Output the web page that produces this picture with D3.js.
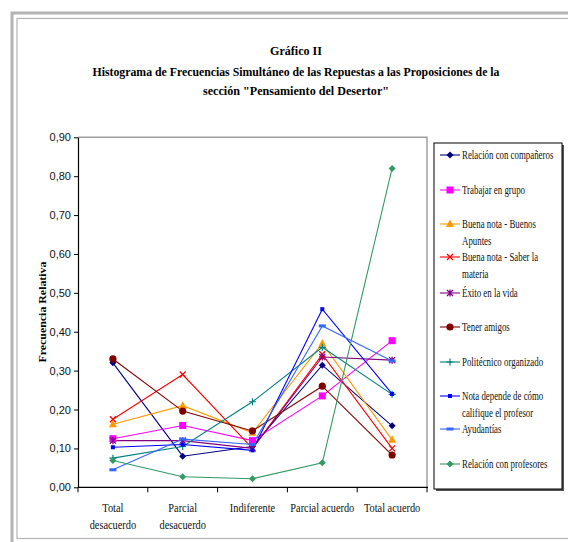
<!DOCTYPE html>
<html><head><meta charset="utf-8">
<script src="https://cdn.jsdelivr.net/npm/d3@7"></script>
<style>body{margin:0;background:#fff}svg{display:block}.serif{font-family:"Liberation Serif","Times New Roman",serif}.sans{font-family:"Liberation Sans",Arial,sans-serif}</style>
</head><body>
<script>
const categories = [["Total","desacuerdo"],["Parcial","desacuerdo"],["Indiferente"],["Parcial acuerdo"],["Total acuerdo"]];
const seriesNames = [["Relación con compañeros"],["Trabajar en grupo"],["Buena nota - Buenos","Apuntes"],["Buena nota - Saber la","materia"],["Éxito en la vida"],["Tener amigos"],["Politécnico organizado"],["Nota  depende de cómo","califique el profesor"],["Ayudantías"],["Relación con profesores"]];
const relCompaneros = [0.32,0.08,0.105,0.314,0.158];
const trabajarGrupo = [0.125,0.159,0.12,0.235,0.377];
const buenosApuntes = [0.162,0.21,0.14,0.37,0.122];
const saberMateria = [0.175,0.29,0.10,0.342,0.10];
const exitoVida = [0.12,0.12,0.10,0.335,0.327];
const tenerAmigos = [0.33,0.196,0.145,0.26,0.083];
const politecnico = [0.075,0.105,0.22,0.36,0.239];
const notaDepende = [0.103,0.11,0.095,0.458,0.24];
const ayudantias = [0.045,0.124,0.11,0.415,0.325];
const relProfesores = [0.069,0.027,0.022,0.063,0.82];
const yTicks = [0,0.1,0.2,0.3,0.4,0.5,0.6,0.7,0.8,0.9];

const seriesValues = [relCompaneros,trabajarGrupo,buenosApuntes,saberMateria,exitoVida,tenerAmigos,politecnico,notaDepende,ayudantias,relProfesores];
const colors = ["#000080","#FF00FF","#FF9900","#FF0000","#800080","#800000","#008080","#0000FF","#3366FF","#339966"];
const markers = ["diamond","square","triangle","x","star","circle","plus","smallsq","dash","diamond"];

const W=568,H=542;
const svg=d3.select("body").append("svg").attr("width",W).attr("height",H);
// frame
svg.append("rect").attr("x",12).attr("y",13).attr("width",W).attr("height",540).attr("fill","none").attr("stroke","#b4b4b4").attr("stroke-width",3);
svg.append("rect").attr("x",17).attr("y",18.5).attr("width",W).attr("height",520).attr("fill","none").attr("stroke","#b4b4b4").attr("stroke-width",1.2);

// title
const title=[["Gráfico II",55,52],["Histograma de Frecuencias Simultáneo de las Repuestas a las Proposiciones de la",76,407],["sección \"Pensamiento del Desertor\"",95,186]];
title.forEach(([t,yy,len])=>svg.append("text").attr("class","serif").attr("x",296).attr("y",yy).attr("text-anchor","middle").attr("font-weight","bold").attr("font-size",13).attr("fill","#000").text(t).attr("textLength",len).attr("lengthAdjust","spacingAndGlyphs"));

const L=78,R=427,T=137.3,B=487.3;
const x=d3.scaleBand().domain(d3.range(categories.length)).range([L,R]);
const y=d3.scaleLinear().domain([0,0.9]).range([B,T]);

// plot border
svg.append("path").attr("d",`M${L},${T}H${R}V${B}`).attr("fill","none").attr("stroke","#a0a0a0").attr("stroke-width",1.5);

// y axis
const ya=svg.append("g").attr("transform",`translate(${L},0)`).call(d3.axisLeft(y).tickValues(yTicks).tickSize(4).tickSizeOuter(0).tickFormat(d=>d3.format(".2f")(d).replace(".",",")));
ya.select(".domain").attr("stroke","#000").attr("stroke-width",1.2);
ya.selectAll("text").attr("class","sans").attr("font-family",null).attr("font-size",11).attr("fill","#111").attr("x",-7);
// x axis
const xa=svg.append("g").attr("transform",`translate(0,${B})`);
xa.append("line").attr("x1",L).attr("x2",R+1).attr("stroke","#000").attr("stroke-width",1.2);
const bounds=d3.range(categories.length+1).map(i=>i<categories.length?x(i):x(categories.length-1)+x.bandwidth());
xa.selectAll(".tk").data(bounds).join("line").attr("x1",d=>d).attr("x2",d=>d).attr("y1",0).attr("y2",5).attr("stroke","#000");
const condense=0.86;
categories.forEach((c,i)=>{
  c.forEach((ln,j)=>{
    const t=xa.append("text").attr("class","serif").attr("text-anchor","middle").attr("font-size",12).attr("fill","#111")
      .attr("x",x(i)+x.bandwidth()/2).attr("y",24.5+j*17.5).text(ln);
    const w=t.node().getComputedTextLength();
    t.attr("textLength",w*condense).attr("lengthAdjust","spacingAndGlyphs");
  });
});
// y title
svg.append("text").attr("class","serif").attr("transform","translate(46,312) rotate(-90)").attr("text-anchor","middle").attr("font-weight","bold").attr("font-size",10.5).text("Frecuencia Relativa").attr("textLength",101).attr("lengthAdjust","spacingAndGlyphs");

function marker(g,type,color,cx,cy){
  if(type==="diamond") g.append("path").attr("d",`M${cx},${cy-3.5}L${cx+3.5},${cy}L${cx},${cy+3.5}L${cx-3.5},${cy}Z`).attr("fill",color);
  else if(type==="square") g.append("rect").attr("x",cx-3.5).attr("y",cy-3.5).attr("width",7).attr("height",7).attr("fill",color);
  else if(type==="triangle") g.append("path").attr("d",`M${cx},${cy-4.5}L${cx+4},${cy+3}L${cx-4},${cy+3}Z`).attr("fill",color);
  else if(type==="x") g.append("path").attr("d",`M${cx-3},${cy-3}L${cx+3},${cy+3}M${cx-3},${cy+3}L${cx+3},${cy-3}`).attr("stroke",color).attr("stroke-width",1.3);
  else if(type==="star") g.append("path").attr("d",`M${cx-3},${cy-3}L${cx+3},${cy+3}M${cx-3},${cy+3}L${cx+3},${cy-3}M${cx},${cy-3.5}V${cy+3.5}`).attr("stroke",color).attr("stroke-width",1.3);
  else if(type==="circle") g.append("circle").attr("cx",cx).attr("cy",cy).attr("r",3.6).attr("fill",color);
  else if(type==="plus") g.append("path").attr("d",`M${cx-3.5},${cy}H${cx+3.5}M${cx},${cy-3.5}V${cy+3.5}`).attr("stroke",color).attr("stroke-width",1.2);
  else if(type==="smallsq") g.append("rect").attr("x",cx-2).attr("y",cy-2).attr("width",4).attr("height",4).attr("fill",color);
  else if(type==="dash") g.append("rect").attr("x",cx-3.5).attr("y",cy-1.5).attr("width",7).attr("height",3).attr("fill",color);
}

const line=d3.line().x((d,i)=>x(i)+x.bandwidth()/2).y(d=>y(d));
const plot=svg.append("g");
seriesValues.forEach((vals,k)=>{
  plot.append("path").attr("d",line(vals)).attr("fill","none").attr("stroke",colors[k]).attr("stroke-width",1.1);
});
seriesValues.forEach((vals,k)=>{
  vals.forEach((v,i)=>marker(plot,markers[k],colors[k],x(i)+x.bandwidth()/2,y(v)));
});

// legend
const lg=svg.append("g");
lg.append("rect").attr("x",436).attr("y",145).attr("width",128).attr("height",346).attr("fill","#555");
lg.append("rect").attr("x",434).attr("y",143).attr("width",128).attr("height",346).attr("fill","#fff").attr("stroke","#000").attr("stroke-width",1);
const legY=[155,190,224,257,293,327,362,396,429,464];
seriesNames.forEach((nm,k)=>{
  const yy=legY[k];
  lg.append("line").attr("x1",440).attr("x2",460).attr("y1",yy).attr("y2",yy).attr("stroke",colors[k]).attr("stroke-width",1.1);
  marker(lg,markers[k],colors[k],450,yy);
  nm.forEach((ln,j)=>{
    lg.append("text").attr("class","serif").attr("x",0).attr("y",0).attr("font-size",11.5).attr("fill","#111").text(ln)
      .attr("transform",`translate(462,${yy+4+j*17}) scale(0.77,1)`);
  });
});
</script>
</body></html>
